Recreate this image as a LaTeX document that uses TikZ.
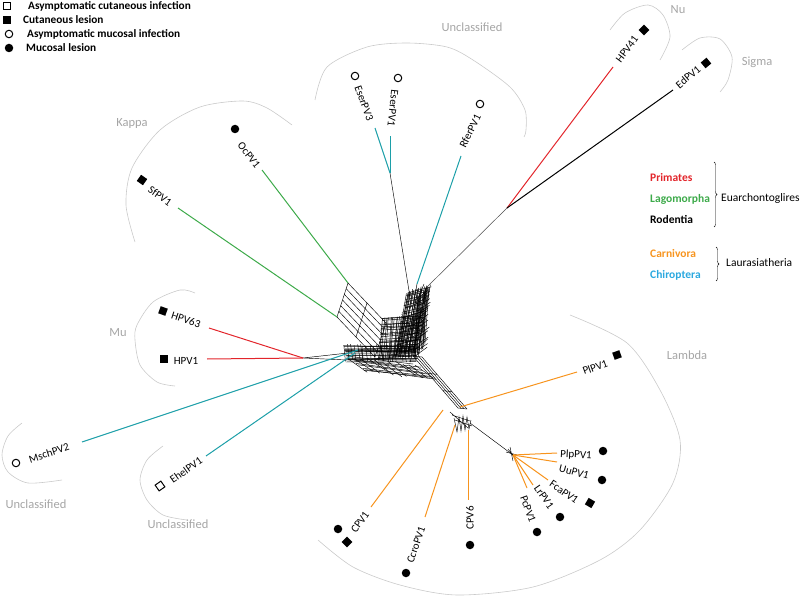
\documentclass[tikz,border=0pt]{standalone}
\usepackage{fontspec}
\setmainfont{Carlito}
\usetikzlibrary{positioning,calc,decorations.pathreplacing}
\definecolor{primcol}{HTML}{E2252B}
\definecolor{lagocol}{HTML}{3DAA4A}
\definecolor{carncol}{HTML}{F7941E}
\definecolor{chircol}{HTML}{1C9FA8}
\definecolor{chirtxt}{HTML}{2AA8DF}
\definecolor{cladetxt}{HTML}{A5A5A5}
\definecolor{cladearc}{HTML}{CACACA}
% grid of parallel splits: origin, edge u, edge v, lines along u, lines along v, jitter
\newcommand{\netmesh}[9]{%
  \foreach \i in {0,...,#7}{\draw[net] ({#1+(#5)*\i/#7+#9*rand},{#2+(#6)*\i/#7+#9*rand}) -- ++({#3+#9*rand},{#4+#9*rand});}%
  \foreach \j in {0,...,#8}{\draw[net] ({#1+(#3)*\j/#8+#9*rand},{#2+(#4)*\j/#8+#9*rand}) -- ++({#5+#9*rand},{#6+#9*rand});}%
}

\begin{document}
\begin{tikzpicture}[x=1pt,y=-1pt,
    net/.style={line width=0.45pt,black},
    br/.style={line width=1pt},
    lf/.style={font=\fontsize{11}{12}\selectfont,inner sep=0pt},
    clade/.style={text=cladetxt,font=\fontsize{12.5}{14}\selectfont,inner sep=0pt},
    ring/.style={draw=cladearc,line width=0.6pt},
    fsq/.style={fill=black,minimum size=7.5pt,inner sep=0pt},
    osq/.style={draw=black,line width=1pt,minimum size=7pt,inner sep=0pt},
    fdot/.style={circle,fill=black,minimum size=8.5pt,inner sep=0pt},
    odot/.style={circle,draw=black,line width=1pt,minimum size=7.5pt,inner sep=0pt},
    leg/.style={anchor=west,inner sep=0pt,font=\bfseries\fontsize{11.3}{12}\selectfont},
    host/.style={anchor=west,inner sep=0pt,font=\bfseries\fontsize{11.5}{13}\selectfont},
    sup/.style={anchor=west,inner sep=0pt,font=\fontsize{11.5}{13}\selectfont}]
  \useasboundingbox (0,0) rectangle (800,596);
  \pgfmathsetseed{12}

  % legend, lesion type
  \node[osq] (kAc) at (7,6) {};
  \node[fsq] (kCl) at (7,20) {};
  \node[odot] (kAm) at (9,34) {};
  \node[fdot] (kMl) at (9,48) {};
  \node[leg] (tAc) at (28,6) {Asymptomatic cutaneous infection};
  \node[leg] (tCl) at (23,20) {Cutaneous lesion};
  \node[leg] (tAm) at (27,34) {Asymptomatic mucosal infection};
  \node[leg] (tMl) at (26,48) {Mucosal lesion};

  % legend, host order
  \node[host,text=primcol] (tPri) at (650,178) {Primates};
  \node[host,text=lagocol] (tLag) at (650,199) {Lagomorpha};
  \node[host] (tRod) at (650,219) {Rodentia};
  \node[host,text=carncol] (tCar) at (650,254) {Carnivora};
  \node[host,text=chirtxt] (tChi) at (650,275) {Chiroptera};
  \draw[decorate,decoration={brace,amplitude=3pt}] (714,162) -- (714,227);
  \draw[decorate,decoration={brace,amplitude=3pt}] (716,247) -- (716,281);
  \node[sup] (tEua) at (721,198) {Euarchontoglires};
  \node[sup] (tLau) at (726,263) {Laurasiatheria};

  % clades
  \draw[ring] plot[smooth] coordinates {(315,100) (327,67) (367,47) (407,43) (447,47) (473,60) (510,87) (525,110) (526,130) (524,137)};
  \draw[ring] plot[smooth] coordinates {(135,242) (126,205) (132,168) (160,130) (200,107) (243,101) (267,108) (292,125)};
  \draw[ring] plot[smooth] coordinates {(610,30) (625,13) (648,5) (663,15) (670,37) (660,60)};
  \draw[ring] plot[smooth] coordinates {(682,50) (700,38) (720,39) (732,57) (728,80) (720,92)};
  \draw[ring] plot[smooth] coordinates {(195,293) (180,290) (153,302) (137,325) (135,340) (140,365) (157,382) (175,386)};
  \draw[ring] plot[smooth] coordinates {(22,423) (8,436) (2,455) (8,472) (28,483) (62,480)};
  \draw[ring] plot[smooth] coordinates {(163,446) (147,460) (140,480) (147,500) (163,515) (187,520)};
  \draw[ring] plot[smooth] coordinates {(570,315) (627,343) (660,390) (680,440) (673,483) (640,530) (600,560) (533,587) (457,595) (400,585) (353,567) (318,540)};
  \node[clade] (cUn1) at (472,27) {Unclassified};
  \node[clade] (cKap) at (132,123) {Kappa};
  \node[clade] (cMu) at (118,333) {Mu};
  \node[clade] (cNu) at (678,10) {Nu};
  \node[clade] (cSig) at (757,62) {Sigma};
  \node[clade] (cLam) at (687,355) {Lambda};
  \node[clade] (cUn2) at (36,504) {Unclassified};
  \node[clade] (cUn3) at (178,524) {Unclassified};

  % reticulate core
  \netmesh{407}{292}{-12}{64}{22}{-6}{24}{26}{1.5}
  \netmesh{416}{298}{-3}{58}{13}{-10}{12}{18}{1.5}
  \netmesh{382}{318}{40}{-2}{-4}{40}{22}{20}{1.5}
  \netmesh{344}{345}{70}{0}{2}{16}{16}{22}{1.2}
  \netmesh{347}{357}{68}{8}{20}{14}{8}{10}{1.5}
  \netmesh{348}{283}{38}{40}{-11}{34}{6}{2}{0}
  \netmesh{413}{356}{45}{52}{9}{1}{3}{3}{0}
  \draw[net] (454,418) -- (457,432) -- (459,417) -- (461,431) -- (463,416) -- (465,430) -- (467,417) -- (469,429) -- (471,420);
  \draw[net] (452,415) -- (470,421) (455,420) -- (472,426) (450,412) -- (468,428);
  \draw[net] (414,300) -- (417,284) (422,296) -- (428,286) (418,298) -- (424,284);
  \draw[net] (508,449) -- (515,458) (510,447) -- (513,461) (506,452) -- (517,455);

  % junctions
  \coordinate (jOc) at (348,283);
  \coordinate (jSf) at (337,317);
  \coordinate (jEser) at (390,173);
  \coordinate (jTop) at (410,297);
  \coordinate (jRf) at (417,284);
  \coordinate (jUp) at (428,286);
  \coordinate (jRod) at (507,208);
  \coordinate (jMu) at (303,358);
  \coordinate (jLobe) at (348,353);
  \coordinate (jLobe2) at (347,360);
  \coordinate (jChi) at (358,350);
  \coordinate (jChi2) at (355,353);
  \coordinate (jPl) at (460,407);
  \coordinate (jCPV1) at (443,410);
  \coordinate (jCcro) at (455,425);
  \coordinate (jCPV6) at (468,430);
  \coordinate (jLow) at (470,423);
  \coordinate (jFel) at (513,455);

  % leaf ends
  \coordinate (eEser3) at (375,128);
  \coordinate (eEser1) at (390,136);
  \coordinate (eRfer) at (461,156);
  \coordinate (eHPV41) at (613,67);
  \coordinate (eEdPV1) at (673,90);
  \coordinate (eOc) at (262,170);
  \coordinate (eSf) at (178,208);
  \coordinate (eHPV63) at (209,328);
  \coordinate (eHPV1) at (207,359);
  \coordinate (eMsch) at (82,442);
  \coordinate (eEhel) at (206,456);
  \coordinate (ePl) at (577,372);
  \coordinate (eCPV1) at (371,507);
  \coordinate (eCcro) at (425,517);
  \coordinate (eCPV6) at (468,500);
  \coordinate (ePlp) at (557,453);
  \coordinate (eUu) at (557,462);
  \coordinate (eFca) at (548,480);
  \coordinate (eLr) at (533,485);
  \coordinate (ePc) at (527,488);

  % branches
  \draw[net] (jTop) -- (jEser);
  \draw[net] (jMu) -- (jLobe) (jMu) -- (jLobe2);
  \draw[line width=0.5pt,black!70] (jUp) -- (jRod);
  \draw[net] (jLow) -- (jFel);
  \draw[br,chircol] (jEser) -- (eEser3);
  \draw[br,chircol] (jEser) -- (eEser1);
  \draw[br,chircol] (jRf) -- (eRfer);
  \draw[br,primcol] (jRod) -- (eHPV41);
  \draw[br,black] (jRod) -- (eEdPV1);
  \draw[br,lagocol] (jOc) -- (eOc);
  \draw[br,lagocol] (jSf) -- (eSf);
  \draw[br,primcol] (jMu) -- (eHPV63);
  \draw[br,primcol] (jMu) -- (eHPV1);
  \draw[br,chircol] (jChi) -- (eMsch);
  \draw[br,chircol] (jChi2) -- (eEhel);
  \draw[br,carncol] (jPl) -- (ePl);
  \draw[br,carncol] (jCPV1) -- (eCPV1);
  \draw[br,carncol] (jCcro) -- (eCcro);
  \draw[br,carncol] (jCPV6) -- (eCPV6);
  \foreach \e in {ePlp,eUu,eFca,eLr,ePc} \draw[br,carncol] (jFel) -- (\e);

  % leaf labels
  \node[lf,rotate=-70] (lEser3) at (364,103) {EserPV3};
  \node[lf,rotate=-96] (lEser1) at (393,108) {EserPV1};
  \node[lf,rotate=64] (lRfer) at (470,131) {RferPV1};
  \node[lf,rotate=53] (lHPV41) at (627,49) {HPV41};
  \node[lf,rotate=40] (lEdPV1) at (688,77) {EdPV1};
  \node[lf,rotate=-52] (lOc) at (249,155) {OcPV1};
  \node[lf,rotate=-35] (lSf) at (160,196) {SfPV1};
  \node[lf,rotate=-18] (lHPV63) at (186,320) {HPV63};
  \node[lf] (lHPV1) at (186,361) {HPV1};
  \node[lf,rotate=18] (lMsch) at (49,453) {MschPV2};
  \node[lf,rotate=35] (lEhel) at (186,470) {EhelPV1};
  \node[lf,rotate=20] (lPl) at (595,367) {PlPV1};
  \node[lf,rotate=54] (lCPV1) at (360,522) {CPV1};
  \node[lf,rotate=71] (lCcro) at (416,545) {CcroPV1};
  \node[lf,rotate=90] (lCPV6) at (470,518) {CPV6};
  \node[lf,rotate=-3] (lPlp) at (576,455) {PlpPV1};
  \node[lf,rotate=-15] (lUu) at (574,472) {UuPV1};
  \node[lf,rotate=-35] (lFca) at (564,492) {FcaPV1};
  \node[lf,rotate=-55] (lLr) at (544,497) {LrPV1};
  \node[lf,rotate=-70] (lPc) at (528,509) {PcPV1};

  % lesion markers
  \node[odot] (mEser3) at (355,76) {};
  \node[odot] (mEser1) at (398,78) {};
  \node[odot] (mRfer) at (480,104) {};
  \node[fsq,rotate=45] (mHPV41) at (644,30) {};
  \node[fsq,rotate=40] (mEdPV1) at (706,63) {};
  \node[fdot] (mOc) at (235,129) {};
  \node[fsq,rotate=-35] (mSf) at (142,180) {};
  \node[fsq,rotate=-20] (mHPV63) at (163,311) {};
  \node[fsq] (mHPV1) at (164,359) {};
  \node[odot] (mMsch) at (16,463) {};
  \node[osq,rotate=35] (mEhel) at (160,486) {};
  \node[fsq,rotate=20] (mPl) at (617,355) {};
  \node[fdot] (mCPV1a) at (338,529) {};
  \node[fsq,rotate=45] (mCPV1b) at (347,542) {};
  \node[fdot] (mCcro) at (406,573) {};
  \node[fdot] (mCPV6) at (470,545) {};
  \node[fdot] (mPlp) at (603,451) {};
  \node[fdot] (mUu) at (602,480) {};
  \node[fsq,rotate=-30] (mFca) at (590,503) {};
  \node[fdot] (mLr) at (560,517) {};
  \node[fdot] (mPc) at (537,532) {};
\end{tikzpicture}
\end{document}
